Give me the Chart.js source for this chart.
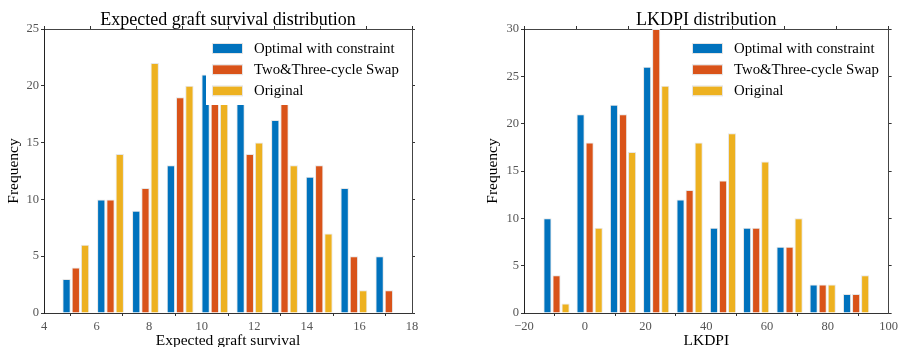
<!DOCTYPE html>
<html>
<head>
<meta charset="utf-8">
<script src="https://cdn.jsdelivr.net/npm/chart.js@4.4.1/dist/chart.umd.min.js"></script>
<style>
    body { margin: 0; background: #fff; }
    .wrap { position: absolute; top: 0; height: 347px; }
</style>
</head>
<body>
<div class="wrap" style="left:0;width:450px"><canvas id="graftChart"></canvas></div>
<div class="wrap" style="left:450px;width:451px"><canvas id="lkdpiChart"></canvas></div>
<script>
const seriesNames = ['Optimal with constraint', 'Two&Three-cycle Swap', 'Original'];
const seriesColors = ['#0072BD', '#D95319', '#EDB120'];

// Expected graft survival – bin centres and counts
const graftBins = [5.21, 6.53, 7.86, 9.18, 10.50, 11.83, 13.15, 14.47, 15.79, 17.12];
const graftOptimal = [3, 10, 9, 13, 21, 20, 17, 12, 11, 5];
const graftSwap = [4, 10, 11, 19, 22, 14, 21, 13, 5, 2];
const graftOriginal = [6, 14, 22, 20, 22, 15, 13, 7, 2, 0];
const graftXTicks = [4, 6, 8, 10, 12, 14, 16, 18];
const graftYTicks = [0, 5, 10, 15, 20, 25];

// LKDPI – bin centres and counts
const lkdpiBins = [-9.3, 1.6, 12.6, 23.5, 34.5, 45.5, 56.4, 67.4, 78.3, 89.3];
const lkdpiOptimal = [10, 21, 22, 26, 12, 9, 9, 7, 3, 2];
const lkdpiSwap = [4, 18, 21, 30, 13, 14, 9, 7, 3, 2];
const lkdpiOriginal = [1, 9, 17, 24, 18, 19, 16, 10, 3, 4];
const lkdpiXTicks = [-20, 0, 20, 40, 60, 80, 100];
const lkdpiYTicks = [0, 5, 10, 15, 20, 25, 30];

Chart.defaults.font.family = "'Liberation Serif', 'DejaVu Serif', serif";
Chart.defaults.color = '#555';

// legend drawn inside the plot on a white box (covers the bars behind it)
const boxLegend = {
    id: 'boxLegend',
    afterDatasetsDraw(chart) {
        const { ctx, chartArea } = chart;
        const x0 = chartArea.left + 162;
        const y0 = chartArea.top + 1;
        ctx.save();
        ctx.fillStyle = '#fff';
        ctx.fillRect(x0, y0, 202, 75);
        ctx.font = "14.8px 'Liberation Serif'";
        ctx.textBaseline = 'middle';
        chart.data.datasets.forEach((ds, i) => {
            const cy = chartArea.top + 19.5 + i * 21.2;
            ctx.fillStyle = ds.backgroundColor;
            ctx.fillRect(x0 + 7, cy - 4.5, 29, 9);
            ctx.strokeStyle = '#e4e4e4';
            ctx.lineWidth = 1;
            ctx.strokeRect(x0 + 6.5, cy - 5, 30, 10);
            ctx.fillStyle = '#000';
            ctx.fillText(ds.label, x0 + 48, cy + 0.5);
        });
        ctx.restore();
    }
};

function tickSetter(list) {
    return scale => { scale.ticks = list.map(v => ({ value: v })); };
}

function fmt(v) {
    return v < 0 ? '\u2212' + Math.abs(v) : String(v);
}

function makeChart(id, opts) {
    const series = [opts.optimal, opts.swap, opts.original];
    const edge = { drawOnChartArea: false, drawTicks: true, tickLength: 3, color: '#333' };
    return new Chart(document.getElementById(id), {
        type: 'bar',
        data: {
            datasets: series.map((vals, i) => ({
                label: seriesNames[i],
                data: opts.bins.map((x, j) => ({ x: x, y: vals[j] })),
                backgroundColor: seriesColors[i],
                borderColor: '#e6e6e6',
                borderWidth: 1,
                categoryPercentage: opts.catPct,
                barPercentage: 0.9
            }))
        },
        options: {
            responsive: true,
            maintainAspectRatio: false,
            animation: false,
            layout: { padding: { left: opts.padLeft, right: opts.padRight, top: 0, bottom: 0 } },
            plugins: {
                legend: { display: false },
                tooltip: { enabled: false },
                title: {
                    display: true,
                    fullSize: false,
                    text: opts.title,
                    color: '#000',
                    font: { size: 18, weight: 'normal', lineHeight: 1 },
                    padding: { top: 11, bottom: -3 }
                }
            },
            scales: {
                x: {
                    type: 'linear',
                    min: opts.xTicks[0],
                    max: opts.xTicks[opts.xTicks.length - 1],
                    offset: false,
                    afterBuildTicks: tickSetter(opts.xTicks),
                    afterFit: s => { s.height = 34; },
                    grid: edge,
                    border: { display: true, color: '#333' },
                    ticks: { font: { size: 12.5 }, padding: 3, maxRotation: 0, callback: v => fmt(v) },
                    title: { display: true, text: opts.xTitle, color: '#000', font: { size: 15.5 }, padding: { top: 0, bottom: -3 } }
                },
                x2: {
                    type: 'linear',
                    position: 'top',
                    min: opts.xTicks[0],
                    max: opts.xTicks[opts.xTicks.length - 1],
                    afterBuildTicks: tickSetter(opts.xTicks),
                    afterFit: s => { s.height = 3; },
                    grid: edge,
                    border: { display: true, color: '#444' },
                    ticks: { display: false }
                },
                y: {
                    min: 0,
                    max: opts.yTicks[opts.yTicks.length - 1],
                    afterBuildTicks: tickSetter(opts.yTicks),
                    afterFit: s => { s.width = opts.yWidth; },
                    grid: edge,
                    border: { display: true, color: '#222' },
                    ticks: { font: { size: 12.5 }, padding: 2 },
                    title: { display: true, text: 'Frequency', color: '#000', font: { size: 15.5 }, padding: { top: 5, bottom: 0 } }
                },
                y2: {
                    position: 'right',
                    min: 0,
                    max: opts.yTicks[opts.yTicks.length - 1],
                    afterBuildTicks: tickSetter(opts.yTicks),
                    afterFit: s => { s.width = 3; },
                    grid: edge,
                    border: { display: true, color: '#444' },
                    ticks: { display: false }
                }
            }
        },
        plugins: [boxLegend]
    });
}

makeChart('graftChart', {
    title: 'Expected graft survival distribution',
    xTitle: 'Expected graft survival',
    bins: graftBins, optimal: graftOptimal, swap: graftSwap, original: graftOriginal,
    xTicks: graftXTicks, yTicks: graftYTicks,
    catPct: 0.8, padLeft: 0, padRight: 35, yWidth: 44
});

makeChart('lkdpiChart', {
    title: 'LKDPI distribution',
    xTitle: 'LKDPI',
    bins: lkdpiBins, optimal: lkdpiOptimal, swap: lkdpiSwap, original: lkdpiOriginal,
    xTicks: lkdpiXTicks, yTicks: lkdpiYTicks,
    catPct: 0.82, padLeft: 29, padRight: 6, yWidth: 45
});
</script>
</body>
</html>
